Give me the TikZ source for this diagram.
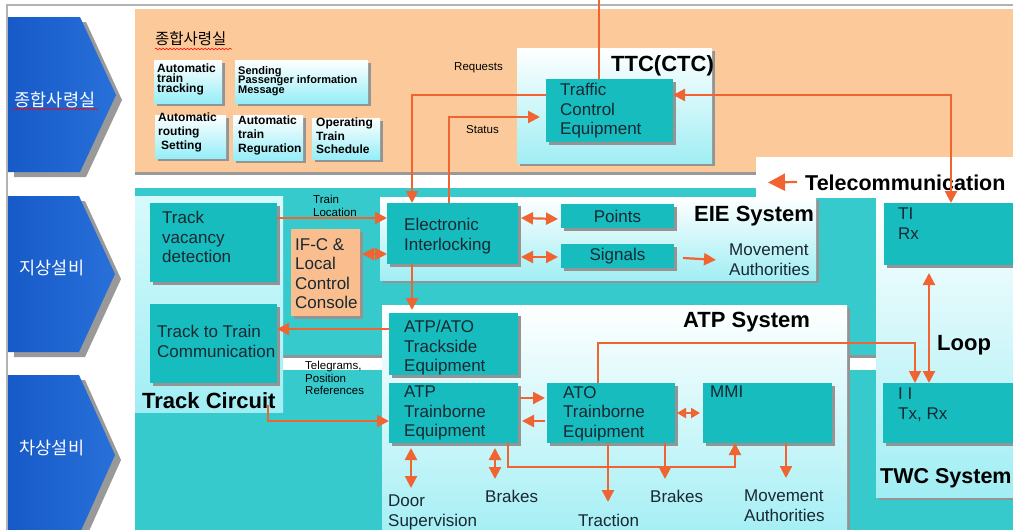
\documentclass[tikz,border=0pt]{standalone}
\usepackage{fontspec}
\setmainfont{Liberation Sans}
\newfontfamily\kr{Noto Sans CJK KR}
\usetikzlibrary{arrows.meta,shadows,decorations.pathmorphing}
\definecolor{cArr}{RGB}{240,100,50}
\definecolor{cTeal}{RGB}{22,188,190}
\definecolor{cTealBg}{RGB}{55,202,204}
\definecolor{cOrange}{RGB}{252,202,154}
\definecolor{cIfc}{RGB}{250,190,142}
\definecolor{cLight}{RGB}{160,238,244}
\definecolor{cLightTop}{RGB}{215,250,252}
\definecolor{cSmall}{RGB}{150,238,248}
\definecolor{cBlueA}{RGB}{22,90,200}
\definecolor{cBlueB}{RGB}{40,112,218}
\definecolor{cTxt}{RGB}{25,40,50}
\newcommand\mkbox[6]{\node[#1, minimum width={(#5-#3)*1pt}, minimum height={(#6-#4)*1pt}] (#2) at (#3,#4) {};}
\tikzset{
  box/.style={anchor=north west, inner sep=0pt, outer sep=0pt},
  shd/.style={drop shadow={shadow xshift=3pt, shadow yshift=-3pt, fill=black!42, opacity=1}},
  tealbox/.style={box, fill=cTeal, shd, text=cTxt, font=\fontsize{17}{19.5}\selectfont},
  bgteal/.style={box, fill=cTealBg, shd},
  lightpanel/.style={box, top color=white, bottom color=cLight, shd},
  smallbox/.style={box, top color=white, bottom color=cSmall, shd},
  rtxt/.style={inner sep=0pt, anchor=north west, align=left, text=cTxt, font=\fontsize{17}{19.5}\selectfont},
  stxt/.style={inner sep=0pt, anchor=north west, align=left, text=black, font=\fontsize{11.5}{12.5}\selectfont},
  btxt/.style={inner sep=0pt, anchor=base west, text=black, font=\bfseries\fontsize{22}{24}\selectfont},
  sbtxt/.style={inner sep=0pt, anchor=north west, align=left, text=black},
  ln/.style={draw=cArr, line width=2.2pt},
  arr/.style={ln, -{Triangle[length=12pt,width=12pt]}},
  darr/.style={ln, {Triangle[length=12pt,width=12pt]}-{Triangle[length=12pt,width=12pt]}},
  sdarr/.style={ln, {Triangle[length=9pt,width=10pt]}-{Triangle[length=9pt,width=10pt]}},
  wavy/.style={draw=red, line width=0.6pt, decorate, decoration={snake, amplitude=0.8pt, segment length=3.5pt}},
}
\begin{document}
\begin{tikzpicture}[x=1pt,y=-1pt]
\useasboundingbox (0,0) rectangle (1013,530);
\clip (0,0) rectangle (1013,530);
\fill[white] (0,0) rectangle (1013,530);
\draw[black!30, line width=1.2pt] (7,530) -- (7,5) -- (1013,5);

% left chevrons
\fill[black!40] (14,22) -- (86,22) -- (122,100) -- (86,177) -- (14,177) -- cycle;
\shade[left color=cBlueA, right color=cBlueB] (8,17) -- (80,17) -- (116,95) -- (80,172) -- (8,172) -- cycle;
\fill[black!40] (14,201) -- (85,201) -- (121,279) -- (85,357) -- (14,357) -- cycle;
\shade[left color=cBlueA, right color=cBlueB] (8,196) -- (79,196) -- (115,274) -- (79,352) -- (8,352) -- cycle;
\fill[black!40] (14,380) -- (85,380) -- (121,460) -- (85,540) -- (14,540) -- cycle;
\shade[left color=cBlueA, right color=cBlueB] (8,375) -- (79,375) -- (115,455) -- (79,535) -- (8,535) -- cycle;
\node[text=white, font=\kr\fontsize{17.5}{20}\selectfont, inner sep=0pt] (k1) at (55,100) {종합사령실};
\draw[wavy] (13,109) -- (98,109);
\node[text=white, font=\kr\fontsize{17.5}{20}\selectfont, inner sep=0pt] (k2) at (52,268) {지상설비};
\node[text=white, font=\kr\fontsize{17.5}{20}\selectfont, inner sep=0pt] (k3) at (52,448) {차상설비};

% orange control-room panel
\mkbox{box, fill=cOrange, drop shadow={shadow xshift=0pt, shadow yshift=-3pt, fill=black!40, opacity=1}}{orange}{135}{9}{1013}{172}
\node[text=black, font=\kr\fontsize{15.5}{18}\selectfont, inner sep=0pt, anchor=west] (ktitle) at (155,39) {종합사령실};
\draw[wavy] (155,49) -- (232,49);
\mkbox{smallbox}{att}{154}{60}{222}{103}
\mkbox{smallbox}{spim}{235}{60}{368}{103}
\mkbox{smallbox}{ars}{155}{115}{226}{158}
\mkbox{smallbox}{atr}{233}{115}{303}{160}
\mkbox{smallbox}{ots}{312}{118}{380}{159}
\node[sbtxt, font={\bfseries\fontsize{12}{10}\selectfont\lineskiplimit=-20pt}] (attt) at (157,64) {Automatic\\train\\tracking};
\node[sbtxt, font={\bfseries\fontsize{11}{9.5}\selectfont\lineskiplimit=-20pt}] (spimt) at (238,66) {Sending\\Passenger information\\Message};
\node[sbtxt, font={\bfseries\fontsize{12}{14}\selectfont\lineskiplimit=-20pt}] (arst) at (158,113) {Automatic\\routing\\\hspace*{3pt}Setting};
\node[sbtxt, font={\bfseries\fontsize{12}{14}\selectfont\lineskiplimit=-20pt}] (atrt) at (238,116) {Automatic\\train\\Reguration};
\node[sbtxt, font={\bfseries\fontsize{12}{13.5}\selectfont\lineskiplimit=-20pt}] (otst) at (316,118) {Operating\\Train\\Schedule};

% TTC
\mkbox{box, top color=white, bottom color=cLight, shd}{ttc}{517}{48}{712}{163}
\node[btxt] (ttct) at (611,71) {TTC(CTC)};
\mkbox{tealbox}{tce}{546}{79}{673}{142}
\node[rtxt] (tcet) at (560,83) {Traffic\\Control\\Equipment};
\node[stxt] (req) at (454,62) {Requests};
\node[stxt] (stat) at (466,125) {Status};

% teal backgrounds
\mkbox{bgteal}{tealA}{135}{188}{1013}{355}
\mkbox{bgteal}{tealB}{135}{370}{1013}{540}
\mkbox{box, fill=white}{telbox}{756}{157}{1013}{198}
\node[btxt, font=\bfseries\fontsize{21.5}{24}\selectfont] (telt) at (805,190) {Telecommunication};

% light panels
\mkbox{box, top color=cLightTop, bottom color=cLight}{tcp}{135}{196}{283}{412}
\mkbox{lightpanel}{eiep}{380}{197}{816}{280}
\mkbox{lightpanel}{atpp}{382}{305}{847}{545}
\mkbox{lightpanel}{twcp}{876}{198}{1013}{497}

% boxes
\mkbox{tealbox}{tvd}{150}{203}{277}{282}
\mkbox{tealbox}{ttt}{150}{304}{277}{383}
\mkbox{box, fill=cIfc, shd}{ifc}{291}{229}{360}{316}
\mkbox{tealbox}{ei}{387}{203}{518}{264}
\node[tealbox, minimum width=113pt, minimum height=24pt] (pts) at (561,204) {Points};
\node[tealbox, minimum width=113pt, minimum height=24pt] (sig) at (561,244) {Signals};
\mkbox{tealbox}{tirx}{884}{203}{1013}{265}
\mkbox{tealbox}{atpts}{389}{313}{518}{375}
\mkbox{tealbox}{atptb}{389}{383}{518}{443}
\mkbox{tealbox}{atotb}{547}{383}{675}{443}
\mkbox{tealbox}{mmi}{703}{383}{832}{443}
\mkbox{tealbox}{twctx}{883}{383}{1013}{443}

% texts
\node[rtxt] (tvdt) at (162,211) {Track\\vacancy\\detection};
\node[rtxt] (tttt) at (157,325) {Track to Train\\Communication};
\node[rtxt] (ifct) at (295,238) {IF-C \&\\Local\\Control\\Console};
\node[rtxt] (eit) at (404,218) {Electronic\\Interlocking};
\node[rtxt] (atptst) at (404,320) {ATP/ATO\\Trackside\\Equipment};
\node[rtxt] (atptbt) at (404,386) {ATP\\Trainborne\\Equipment};
\node[rtxt] (atotbt) at (563,386) {ATO\\Trainborne\\Equipment};
\node[rtxt] (mmit) at (710,386) {MMI};
\node[rtxt] (tirxt) at (898,208) {TI\\Rx};
\node[rtxt] (twctxt) at (898,388) {I I\\Tx, Rx};
\node[rtxt] (mae) at (729,244) {Movement\\Authorities};
\node[rtxt] (door) at (388,495) {Door\\Supervision};
\node[rtxt] (brk1) at (485,490) {Brakes};
\node[rtxt] (trac) at (578,514) {Traction};
\node[rtxt] (brk2) at (650,490) {Brakes};
\node[rtxt] (ma2) at (744,490) {Movement\\Authorities};
\node[stxt, font=\fontsize{11.5}{13}\selectfont] (trloc) at (313,195) {Train\\Location};
\node[stxt] (tele) at (305,361) {Telegrams,\\Position\\References};
\node[btxt] (eies) at (694,221) {EIE System};
\node[btxt] (atps) at (683,327) {ATP System};
\node[btxt] (loop) at (937,350) {Loop};
\node[btxt, font=\bfseries\fontsize{21.5}{24}\selectfont] (twcs) at (880,483) {TWC System};
\node[btxt] (tcs) at (142,408) {Track Circuit};

% connectors
\coordinate (topin) at (599,0);
\draw[ln] (topin) -- (topin |- tce.north);
\draw[arr] ([yshift=-16pt]tce.north west) -| ([xshift=25pt]ei.north west);
\draw[arr] ([xshift=62pt]ei.north west) |- ([xshift=-6pt,yshift=-38pt]tce.north west);
\draw[darr] ([yshift=-16pt]tce.north east) -| ([xshift=67pt]tirx.north west);
\coordinate (telA) at (797,182);
\draw[ln, -{Triangle[length=17pt,width=17pt]}] (telA) -- ([xshift=12pt,yshift=-5pt]telbox.west);
\draw[arr] ([yshift=-15pt]tvd.north east) -- ([yshift=-15pt]ei.north west);
\draw[darr] ([yshift=-25pt,xshift=2pt]ifc.north east) -- ([yshift=-51pt]ei.north west);
\draw[arr] ([xshift=25pt]ei.south west) -- ([xshift=23pt,yshift=3pt]atpts.north west);
\draw[arr] ([yshift=-16pt]atpts.north west) -- ([yshift=-25pt]ttt.north east);
\draw[darr] ([yshift=-15pt,xshift=3pt]ei.north east) -- ([yshift=-15pt,xshift=-3pt]pts.north west);
\draw[darr] ([yshift=-54pt,xshift=3pt]ei.north east) -- ([yshift=-13pt,xshift=-3pt]sig.north west);
\draw[arr] ([xshift=9pt,yshift=-2pt]sig.east) -- ([xshift=-13pt]mae.west);
\draw[arr] ([yshift=-15pt,xshift=2pt]atptb.north east) -- ([yshift=-15pt,xshift=-2pt]atotb.north west);
\draw[arr] ([yshift=-38pt,xshift=-2pt]atotb.north west) -- ([yshift=-38pt,xshift=4pt]atptb.north east);
\draw[sdarr] ([yshift=-30pt,xshift=2pt]atotb.north east) -- ([yshift=-30pt,xshift=-3pt]mmi.north west);
\draw[arr, line width=1.8pt] ([xshift=51pt]atotb.north west) -- ([xshift=51pt,yshift=40pt]atotb.north west) -| ([xshift=32pt]twctx.north west);
\draw[darr] ([xshift=45pt,yshift=-8pt]tirx.south west) -- ([xshift=46pt]twctx.north west);
\draw[arr] ([xshift=-9pt,yshift=-22pt]ttt.south east) |- ([yshift=-38pt]atptb.north west);
\draw[darr] ([xshift=22pt,yshift=-5pt]atptb.south west) -- ([xshift=23pt,yshift=7pt]door.north west);
\draw[darr] ([xshift=106pt,yshift=-5pt]atptb.south west) -- ([xshift=10pt,yshift=11pt]brk1.north west);
\draw[arr] ([xshift=119pt]atptb.south west) -- ([xshift=119pt,yshift=-24pt]atptb.south west) -| ([xshift=32pt]mmi.south west);
\draw[arr] ([xshift=61pt]atotb.south west) -- ([xshift=30pt,yshift=12pt]trac.north west);
\draw[arr] ([xshift=118pt]atotb.south west) -- ([xshift=15pt,yshift=11pt]brk2.north west);
\draw[arr] ([xshift=83pt]mmi.south west) -- ([xshift=42pt,yshift=12pt]ma2.north west);
\end{tikzpicture}
\end{document}
